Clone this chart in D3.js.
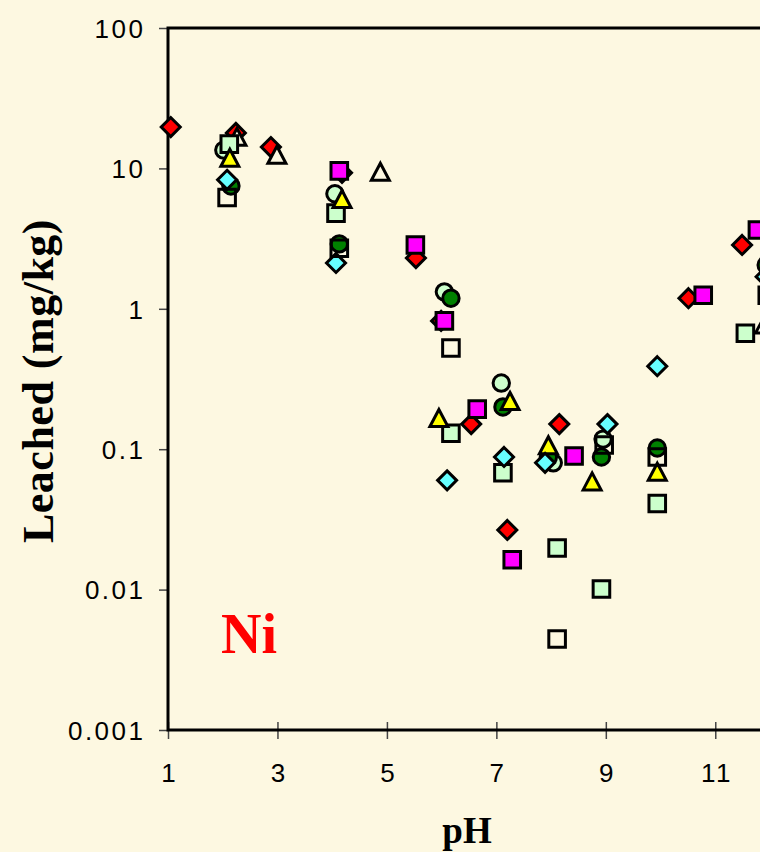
<!DOCTYPE html>
<html>
<head>
<meta charset="utf-8">
<script src="https://cdn.jsdelivr.net/npm/d3@7/dist/d3.min.js"></script>
<style>
  html, body { margin: 0; padding: 0; background: #FDF8E1; }
  svg { display: block; }
</style>
</head>
<body>
<svg id="chart" width="760" height="852"></svg>
<script>
// Leached Ni (mg/kg) against pH, one array per sample series: [pH, mg/kg]
const redDiamond = [[1.05,19.7],[2.24,17.9],[2.88,14.2],[4.18,9.3],[5.53,2.3],[5.99,0.82],[6.54,0.151],[7.2,0.0266],[8.15,0.151],[10.51,1.19],[11.49,2.85]];
const openTriangle = [[2.26,16.5],[2.99,12.3],[4.88,9.3],[11.9,0.76]];
const paleCircle = [[2.02,13.5],[4.05,6.6],[6.05,1.32],[7.09,0.296],[8.04,0.080],[8.95,0.118]];
const paleSquare = [[2.12,14.9],[4.07,4.8],[6.17,0.130],[7.12,0.068],[8.11,0.0198],[8.92,0.0101],[9.94,0.041],[11.55,0.67]];
const greenCircle = [[2.15,7.5],[4.13,2.9],[6.17,1.19],[7.12,0.2],[7.95,0.088],[8.92,0.088],[9.94,0.102],[11.93,2.05]];
const yellowTriangle = [[2.13,11.7],[4.18,5.96],[5.95,0.164],[7.25,0.217],[7.95,0.105],[8.75,0.058],[9.94,0.068]];
const cyanDiamond = [[2.08,8.3],[4.07,2.12],[6.1,0.060],[7.14,0.088],[7.89,0.080],[9.03,0.151],[9.94,0.39],[11.92,1.69]];
const openSquare = [[2.08,6.2],[4.13,2.7],[6.17,0.526],[8.11,0.00445],[8.97,0.107],[9.94,0.088],[11.95,1.25]];
const magentaSquare = [[4.13,9.6],[5.52,2.85],[6.05,0.82],[6.65,0.193],[7.29,0.0163],[8.42,0.0895],[10.78,1.25],[11.77,3.64]];

const xTicks = [1, 3, 5, 7, 9, 11];
const yTicks = [0.001, 0.01, 0.1, 1, 10, 100];
const yTickLabels = ["0.001", "0.01", "0.1", "1", "10", "100"];

const BG = "#FDF8E1";
const svg = d3.select("#chart");
svg.append("rect").attr("width", 760).attr("height", 852).attr("fill", BG);

const plotL = 168, plotT = 28, plotB = 730, plotR = 770;
const x = d3.scaleLinear().domain([1, 12]).range([plotL, plotR]);
const y = d3.scaleLog().domain([0.001, 100]).range([plotB, plotT]);

// y axis ticks and labels
const yAxis = svg.append("g")
  .attr("transform", `translate(${plotL},0)`)
  .call(d3.axisLeft(y).tickValues(yTicks).tickSize(9).tickPadding(13.5)
    .tickFormat((d, i) => yTickLabels[i]));
yAxis.select(".domain").remove();
yAxis.selectAll(".tick line").attr("stroke", "#444").attr("stroke-width", 1.5);
yAxis.selectAll(".tick text")
  .attr("font-family", "'Liberation Sans', Arial, sans-serif")
  .attr("font-size", 26).attr("letter-spacing", 2.5).attr("fill", "#000")
  .attr("dy", "0.36em");

// x axis ticks crossing the baseline
const xAxis = svg.append("g")
  .attr("transform", `translate(0,${plotB})`)
  .call(d3.axisBottom(x).tickValues(xTicks).tickSize(8).tickFormat(d3.format("d")));
xAxis.select(".domain").remove();
xAxis.selectAll(".tick line").attr("y1", -8).attr("y2", 9)
  .attr("stroke", "#444").attr("stroke-width", 1.5);
xAxis.selectAll(".tick text")
  .attr("font-family", "'Liberation Sans', Arial, sans-serif")
  .attr("font-size", 26).attr("letter-spacing", 2.5).attr("fill", "#000")
  .attr("y", 52).attr("dy", 0).attr("dx", 1.2);

// plot frame
svg.append("rect")
  .attr("x", plotL).attr("y", plotT)
  .attr("width", plotR - plotL).attr("height", plotB - plotT)
  .attr("fill", "none").attr("stroke", "#000").attr("stroke-width", 3);

// marker shapes
const shapes = {
  diamond: "M0,-9.5L9.5,0L0,9.5L-9.5,0Z",
  square: "M-8.3,-8.3H8.3V8.3H-8.3Z",
  circle: d3.symbol(d3.symbolCircle, Math.PI * 8.2 * 8.2)(),
  triangle: "M0,-9.5L9,7.5H-9Z"
};

const series = [
  { data: redDiamond, shape: "diamond", fill: "#FF0000" },
  { data: openTriangle, shape: "triangle", fill: BG },
  { data: paleCircle, shape: "circle", fill: "#CCFFCC" },
  { data: paleSquare, shape: "square", fill: "#CCFFCC" },
  { data: greenCircle, shape: "circle", fill: "#008000" },
  { data: yellowTriangle, shape: "triangle", fill: "#FFFF00" },
  { data: cyanDiamond, shape: "diamond", fill: "#66FFFF" },
  { data: openSquare, shape: "square", fill: "none" },
  { data: magentaSquare, shape: "square", fill: "#FF00FF" }
];

const marks = svg.append("g");
series.forEach(s => {
  marks.append("g").selectAll("path")
    .data(s.data)
    .join("path")
    .attr("d", shapes[s.shape])
    .attr("transform", d => `translate(${x(d[0])},${y(d[1])})`)
    .attr("fill", s.fill)
    .attr("stroke", "#000")
    .attr("stroke-width", 3)
    .attr("stroke-linejoin", "miter");
});

// element label
svg.append("text")
  .attr("x", 221).attr("y", 653)
  .attr("font-family", "'Liberation Serif', 'Times New Roman', serif")
  .attr("font-weight", "bold").attr("font-size", 56)
  .attr("fill", "#FF0000")
  .text("Ni");

// axis titles
svg.append("text")
  .attr("x", (plotL + plotR) / 2 - 2).attr("y", 843)
  .attr("text-anchor", "middle")
  .attr("font-family", "'Liberation Serif', 'Times New Roman', serif")
  .attr("font-weight", "bold").attr("font-size", 37)
  .attr("fill", "#000")
  .text("pH");

svg.append("text")
  .attr("transform", `translate(53,${(plotT + plotB) / 2 + 2}) rotate(-90)`)
  .attr("text-anchor", "middle")
  .attr("font-family", "'Liberation Serif', 'Times New Roman', serif")
  .attr("font-weight", "bold").attr("font-size", 44)
  .attr("letter-spacing", 0.5)
  .attr("fill", "#000")
  .text("Leached (mg/kg)");
</script>
</body>
</html>
